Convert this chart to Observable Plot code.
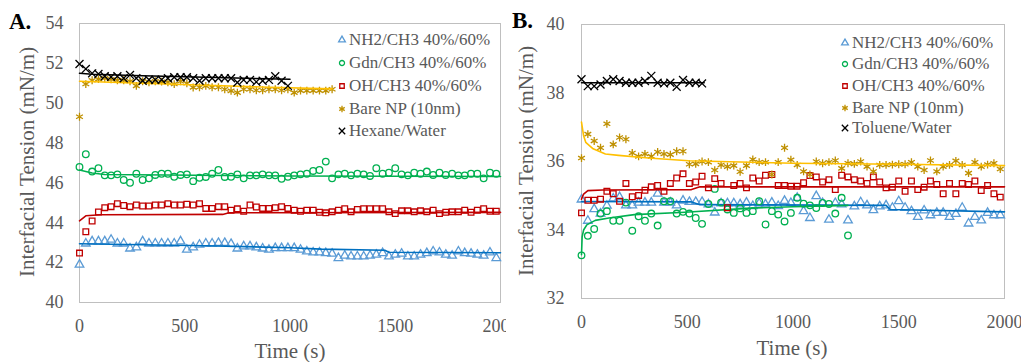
<!DOCTYPE html>
<html>
<head>
<meta charset="utf-8">
<script src="https://cdn.jsdelivr.net/npm/d3@7"></script>
<script src="https://cdn.jsdelivr.net/npm/@observablehq/plot@0.6"></script>
<style>
  html, body { margin: 0; padding: 0; background: white; }
  #wrap { position: relative; width: 1021px; height: 362px; overflow: hidden; font-family: 'Liberation Serif', serif; }
  #wrap svg.panel { position: absolute; top: 0; }
  #wrap svg text { font-family: 'Liberation Serif', serif !important; }
  .lg { position: absolute; font-family: 'Liberation Serif', serif; font-size: 17px; line-height: 20px; color: #595959; white-space: nowrap; }
  .ttl { position: absolute; font-family: 'Liberation Serif', serif; font-weight: bold; font-size: 23px; color: #000; }
</style>
</head>
<body>
<div id="wrap"></div>
<script>
// ---------------- DATA ----------------
const STEP = 30; // sampling interval (s) of the measured points

// Panel A (Hexane/Water)
const A_NH2 = [41.9,42.96,43.07,43.07,43.07,43.15,42.96,42.96,42.71,42.77,43.07,42.96,42.96,42.96,42.96,42.96,43.07,42.65,42.77,42.9,42.96,42.96,42.99,42.99,42.94,42.71,42.82,42.82,42.77,42.71,42.65,42.73,42.73,42.73,42.73,42.65,42.56,42.51,42.51,42.48,42.45,42.23,42.35,42.31,42.31,42.31,42.35,42.4,42.48,42.31,42.4,42.45,42.31,42.31,42.4,42.48,42.56,42.51,42.4,42.35,42.56,42.48,42.45,42.4,42.35,42.51,42.23];
const A_Gdn = [46.8,47.44,46.57,46.74,46.38,46.38,46.43,46.15,46.01,46.46,46.15,46.23,46.4,46.46,46.46,46.31,46.4,46.43,46.09,46.26,46.3,46.46,46.65,46.3,46.31,46.43,46.23,46.38,46.38,46.43,46.38,46.38,46.21,46.31,46.38,46.43,46.46,46.6,46.65,47.07,46.23,46.43,46.46,46.38,46.46,46.43,46.35,46.74,46.46,46.51,46.74,46.43,46.38,46.51,46.46,46.57,46.4,46.51,46.4,46.46,46.38,46.38,46.46,46.46,46.23,46.51,46.46];
const A_OH = [42.48,43.55,44.09,44.54,44.76,44.81,44.96,44.87,44.81,44.89,44.84,44.84,44.89,44.89,44.96,44.89,44.89,44.93,44.89,44.96,44.72,44.72,44.81,44.81,44.63,44.7,44.58,44.89,44.79,44.72,44.72,44.76,44.81,44.72,44.63,44.58,44.63,44.63,44.53,44.5,44.55,44.63,44.71,44.55,44.67,44.71,44.71,44.71,44.71,44.55,44.46,44.6,44.6,44.55,44.6,44.55,44.63,44.46,44.53,44.55,44.55,44.63,44.53,44.63,44.71,44.58,44.58];
const A_Bare = [49.32,50.96,51.15,51.21,51.25,51.2,51.15,51.15,51.1,50.87,51.1,51.05,51.1,51.08,51.05,50.96,51.1,51.0,50.79,50.8,50.87,50.8,50.8,50.7,50.62,50.53,50.7,50.7,50.65,50.65,50.7,50.7,50.65,50.7,50.53,50.63,50.63,50.63,50.63,50.63,50.7];
const A_Solv = [51.97,51.72,51.5,51.47,51.35,51.32,51.35,51.25,51.42,51.25,51.13,51.18,51.18,51.18,51.25,51.3,51.3,51.3,51.25,51.13,51.25,51.25,51.25,51.25,51.25,51.04,51.17,51.17,51.07,51.13,51.17,51.35,51.13,50.87];

// Panel A fitted curves: times and values
const A_fitNH2_t = [0,300,600,1000,1150,1450,1470,2000];
const A_fitNH2_v = [42.95,42.9,42.85,42.75,42.68,42.62,42.52,42.5];
const A_fitGdn_t = [0,60,120,1000,2000];
const A_fitGdn_v = [46.65,46.5,46.42,46.35,46.32];
const A_fitOH_t = [0,30,100,680,710,2000];
const A_fitOH_v = [44.1,44.35,44.4,44.42,44.5,44.52];
const A_fitBare_t = [0,300,600,900,1200];
const A_fitBare_v = [51.1,51.0,50.9,50.8,50.72];
const A_fitSolv_t = [0,60,300,600,1000];
const A_fitSolv_v = [51.5,51.45,51.38,51.3,51.2];

// Panel B (Toluene/Water)
const B_NH2 = [34.89,34.27,34.61,34.48,34.71,34.92,34.96,34.72,34.72,34.8,34.8,34.8,35.06,34.8,34.8,34.72,34.86,34.82,34.82,34.82,34.75,34.51,34.78,34.78,34.78,34.75,34.8,34.7,34.78,34.75,34.8,34.7,34.85,34.79,34.94,34.55,34.35,34.99,34.79,34.3,34.79,34.75,34.28,34.69,34.81,34.72,34.58,34.69,34.72,34.65,34.84,34.65,34.55,34.38,34.57,34.43,34.5,34.5,34.38,34.47,34.65,34.19,34.38,34.28,34.5,34.43,34.43];
const B_Gdn = [33.26,33.83,34.03,34.48,34.55,34.27,34.27,34.8,33.98,34.4,34.27,34.48,34.13,34.84,34.84,34.48,34.53,34.48,34.35,34.18,34.76,35.2,34.8,34.6,34.5,34.63,34.5,34.55,34.84,34.16,34.55,34.45,34.25,34.5,34.94,34.77,34.72,34.64,34.79,34.76,34.48,34.94,33.84];
const B_OH = [34.5,34.87,34.87,34.9,35.13,35.06,34.84,35.36,34.97,35.01,35.16,35.26,35.3,35.13,35.36,35.52,35.64,35.36,35.4,35.57,35.23,35.5,35.36,34.65,35.3,35.36,35.23,35.52,35.43,35.6,35.62,35.3,35.3,35.28,35.28,35.38,35.59,35.55,35.4,35.47,35.18,35.6,35.55,35.47,35.43,35.36,35.55,35.4,35.23,35.25,35.43,35.13,35.43,35.18,35.25,35.43,35.33,35.06,35.36,35.06,35.36,35.33,35.43,35.15,35.3,35.06,34.96];
const B_Bare = [36.1,36.8,36.6,36.4,37.1,36.5,36.7,36.65,36.25,36.15,36.22,36.15,36.28,36.22,36.2,36.3,36.3,35.92,35.93,36.0,35.98,35.75,35.9,35.85,35.88,35.7,35.88,36.06,35.98,35.98,35.62,35.98,36.4,36.05,35.9,35.71,35.62,36.0,35.95,35.98,36.03,35.8,35.95,35.93,36.0,35.85,35.71,35.9,35.9,35.91,35.92,35.92,35.98,35.85,35.75,36.03,35.71,35.85,35.9,36.02,35.9,35.66,35.98,35.85,35.91,35.95,35.78];
const B_Solv = [38.4,38.2,38.2,38.25,38.35,38.4,38.35,38.3,38.3,38.3,38.35,38.5,38.3,38.28,38.3,38.18,38.38,38.3,38.3,38.28];

const B_fitNH2_t = [0,520,560,1440,1460,2000];
const B_fitNH2_v = [34.83,34.82,34.74,34.72,34.6,34.53];
const B_fitGdn_t = [0,3,10,25,65,130,250,490,800,1000,1260];
const B_fitGdn_v = [33.28,33.8,34.0,34.15,34.28,34.35,34.45,34.52,34.64,34.68,34.72];
const B_fitOH_t = [0,10,30,100,520,560,2000];
const B_fitOH_v = [34.9,35.05,35.15,35.17,35.18,35.26,35.26];
const B_fitBare_t = [0,10,20,55,113,175,317,506,800,1000,1500,2000];
const B_fitBare_v = [37.15,36.75,36.56,36.37,36.22,36.18,36.1,36.02,35.98,35.95,35.92,35.88];
const B_fitSolv_t = [0,580];
const B_fitSolv_v = [38.3,38.3];

const xTicks = [0, 500, 1000, 1500, 2000];
const A_yTicks = [40, 42, 44, 46, 48, 50, 52, 54];
const B_yTicks = [32, 34, 36, 38, 40];

const A_names = ["NH2/CH3 40%/60%", "Gdn/CH3 40%/60%", "OH/CH3 40%/60%", "Bare NP (10nm)", "Hexane/Water"];
const B_names = ["NH2/CH3 40%/60%", "Gdn/CH3 40%/60%", "OH/CH3 40%/60%", "Bare NP (10nm)", "Toluene/Water"];
const yTitle = "Interfacial Tension (mN/m)";
const xTitle = "Time (s)";

// ---------------- STYLE ----------------
const FONT = "'Liberation Serif', serif";
const sty = [
  {symbol: "triangle", stroke: "#5b9bd5", line: "#0070c0", r: 3.2},
  {symbol: "circle",   stroke: "#00b050", line: "#00b050", r: 3.3},
  {symbol: "square",   stroke: "#c00000", line: "#c00000", r: 3.2},
  {symbol: "asterisk", stroke: "#bf9000", line: "#ffc000", r: 3.7},
  {symbol: "times",    stroke: "#000000", line: "#000000", r: 3.7}
];
const pts = vals => vals.map((v, i) => ({t: i * STEP, v}));
const fit = (ts, vs) => ts.map((t, i) => ({t, v: vs[i]}));

function panel(opts) {
  const marks = [
    Plot.frame({stroke: "#bfbfbf", strokeWidth: 1}),
    Plot.axisX({ticks: xTicks, tickSize: 0, tickPadding: opts.xPad, label: null, tickFormat: d => String(d), fontSize: 18, fill: "#595959"}),
    Plot.axisY({ticks: opts.yTicks, tickSize: 0, tickPadding: opts.yPad, label: null, tickFormat: d => String(d), fontSize: 18, fill: "#595959"})
  ];
  opts.series.forEach((s, i) => {
    const st = sty[i];
    marks.push(Plot.dot(pts(s), {x: "t", y: "v", symbol: st.symbol, stroke: st.stroke, fill: "none", r: st.r, strokeWidth: 1.3}));
    marks.push(Plot.line(fit(opts.fits[i][0], opts.fits[i][1]), {x: "t", y: "v", stroke: st.line, strokeWidth: 1.6}));
  });
  const svg = Plot.plot({
    width: opts.width, height: 362,
    marginLeft: opts.ml, marginRight: opts.mr, marginTop: opts.mt, marginBottom: opts.mb,
    x: {domain: [0, 2000]},
    y: {domain: opts.yDomain},
    style: "font-family: 'Liberation Serif', serif; font-size: 18px; color: #595959; background: white; overflow: hidden;",
    marks
  });
  svg.classList.add("panel");
  svg.setAttribute("font-family", FONT);
  svg.style.left = opts.left + "px";
  const s = d3.select(svg);
  s.append("text").attr("transform", `translate(${opts.yTitleX},${opts.yTitleY}) rotate(-90)`)
    .attr("text-anchor", "middle").attr("dominant-baseline", "central").attr("font-family", FONT)
    .attr("fill", "#595959").attr("font-size", 21).text(yTitle);
  s.append("text").attr("x", opts.xTitleX).attr("y", opts.xTitleY)
    .attr("text-anchor", "middle").attr("dominant-baseline", "central").attr("font-family", FONT)
    .attr("fill", "#595959").attr("font-size", 21).text(xTitle);
  return svg;
}

const wrap = document.getElementById("wrap");
wrap.appendChild(panel({
  width: 506, left: 0, ml: 79, mr: 6, mt: 23, mb: 60, xPad: 17, yPad: 16,
  yDomain: [40, 54], yTicks: A_yTicks,
  series: [A_NH2, A_Gdn, A_OH, A_Bare, A_Solv],
  fits: [[A_fitNH2_t, A_fitNH2_v], [A_fitGdn_t, A_fitGdn_v], [A_fitOH_t, A_fitOH_v], [A_fitBare_t, A_fitBare_v], [A_fitSolv_t, A_fitSolv_v]],
  yTitleX: 27, yTitleY: 162, xTitleX: 290, xTitleY: 351
}));
wrap.appendChild(panel({
  width: 515, left: 506, ml: 75, mr: 17, mt: 24, mb: 64, xPad: 17, yPad: 17,
  yDomain: [32, 40], yTicks: B_yTicks,
  series: [B_NH2, B_Gdn, B_OH, B_Bare, B_Solv],
  fits: [[B_fitNH2_t, B_fitNH2_v], [B_fitGdn_t, B_fitGdn_v], [B_fitOH_t, B_fitOH_v], [B_fitBare_t, B_fitBare_v], [B_fitSolv_t, B_fitSolv_v]],
  yTitleX: 20, yTitleY: 161, xTitleX: 286, xTitleY: 348
}));

// titles
function title(txt, x, y) {
  const d = document.createElement("div");
  d.className = "ttl"; d.textContent = txt;
  d.style.left = x + "px"; d.style.top = y + "px";
  wrap.appendChild(d);
}
title("A.", 9, 9);
title("B.", 512, 8);

// legends
const symMap = {triangle: d3.symbolTriangle, circle: d3.symbolCircle, square: d3.symbolSquare, asterisk: d3.symbolAsterisk, times: d3.symbolTimes};
function legend(names, mx, tx, ys) {
  names.forEach((n, i) => {
    const st = sty[i];
    const m = d3.create("svg").attr("width", 12).attr("height", 12)
      .style("position", "absolute").style("left", (mx - 6) + "px").style("top", (ys[i] - 6) + "px");
    m.append("path").attr("transform", "translate(6,6)")
      .attr("d", d3.symbol(symMap[st.symbol], st.symbol === "asterisk" || st.symbol === "times" ? 28 : 20)())
      .attr("fill", "none").attr("stroke", st.stroke).attr("stroke-width", 1.3);
    wrap.appendChild(m.node());
    const d = document.createElement("div");
    d.className = "lg"; d.textContent = n;
    d.style.left = tx + "px"; d.style.top = (ys[i] - 10) + "px";
    wrap.appendChild(d);
  });
}
legend(A_names, 342, 349, [40, 63, 86, 109, 131]);
legend(B_names, 845, 852, [43, 64, 86, 108, 128]);
</script>
</body>
</html>
